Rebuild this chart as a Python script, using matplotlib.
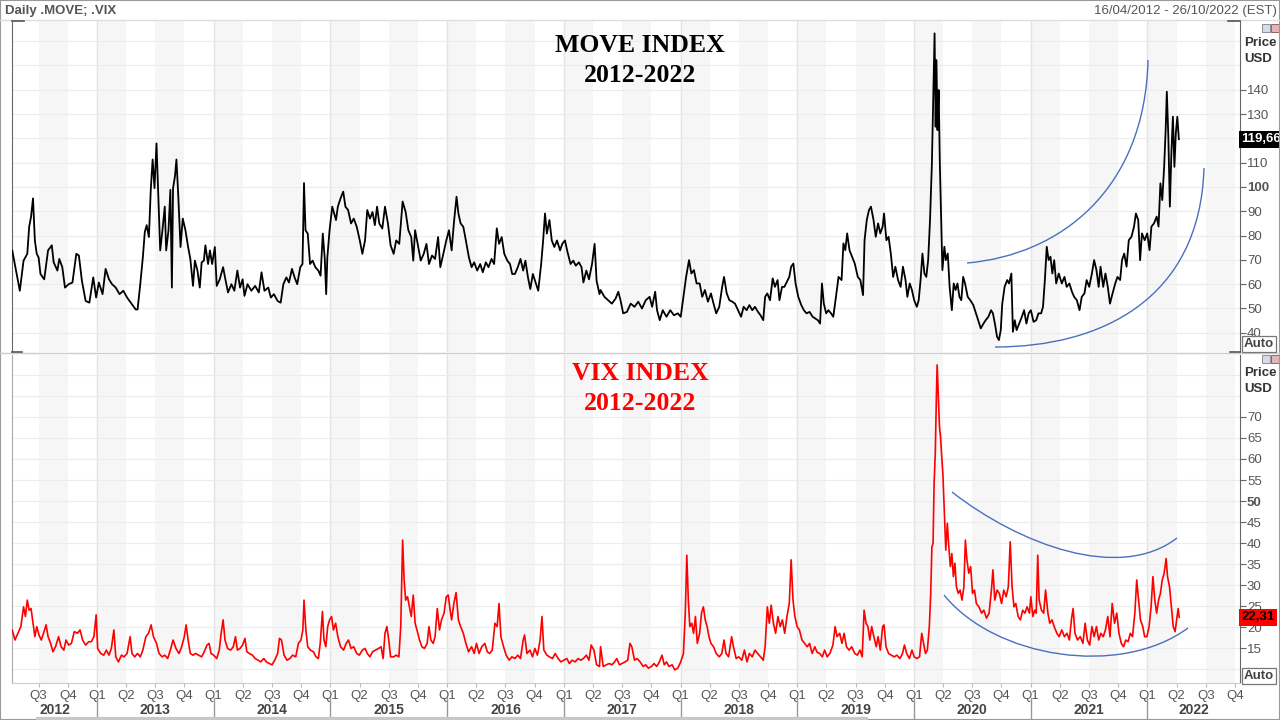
import numpy as np
import matplotlib
matplotlib.use("Agg")
import matplotlib.pyplot as plt
from matplotlib.path import Path
from matplotlib.patches import PathPatch, Rectangle
from matplotlib.lines import Line2D
from matplotlib.transforms import blended_transform_factory

plt.rcParams["font.family"] = ["Liberation Sans", "DejaVu Sans"]

# ---- data (decimal year, index level) ----
move_a = [
    (2012.274, 73.9), (2012.339, 57.3), (2012.371, 69.7), (2012.403, 72.5), (2012.419, 83.6),
    (2012.435, 87.7), (2012.452, 95.3), (2012.468, 78.0), (2012.484, 72.5), (2012.500, 71.0),
    (2012.516, 64.2), (2012.548, 62.0), (2012.581, 73.9), (2012.613, 76.0), (2012.629, 69.0),
    (2012.661, 65.6), (2012.677, 70.4), (2012.703, 67.0), (2012.726, 58.6), (2012.758, 60.0),
    (2012.790, 60.7), (2012.823, 72.5), (2012.845, 71.8), (2012.871, 61.4), (2012.903, 53.1),
    (2012.935, 52.4), (2012.968, 62.8), (2012.993, 54.5), (2013.016, 60.7), (2013.048, 55.9),
    (2013.074, 66.3), (2013.103, 62.0), (2013.129, 60.0), (2013.161, 58.6), (2013.193, 55.9),
    (2013.226, 57.3), (2013.258, 54.5), (2013.290, 52.4), (2013.332, 49.6), (2013.348, 49.6),
    (2013.371, 60.0), (2013.393, 71.0), (2013.410, 81.5), (2013.426, 84.3), (2013.445, 79.4),
    (2013.461, 98.8), (2013.477, 111.3), (2013.493, 99.5), (2013.510, 117.9), (2013.526, 96.0),
    (2013.542, 73.9), (2013.561, 82.2), (2013.581, 91.9), (2013.593, 73.9), (2013.613, 82.2),
    (2013.629, 98.8), (2013.642, 58.6), (2013.652, 99.5), (2013.668, 104.3), (2013.681, 111.3),
    (2013.697, 96.0), (2013.716, 75.3), (2013.735, 87.0), (2013.758, 82.2), (2013.781, 75.3),
    (2013.800, 70.4), (2013.823, 59.3), (2013.839, 69.7), (2013.861, 65.6), (2013.881, 58.6),
    (2013.897, 69.0), (2013.916, 69.7), (2013.929, 76.0), (2013.952, 68.3), (2013.968, 73.9),
    (2013.987, 68.3), (2014.010, 75.3), (2014.026, 59.3), (2014.052, 62.0), (2014.081, 67.0),
    (2014.097, 62.8), (2014.123, 56.6), (2014.152, 60.0), (2014.177, 57.3), (2014.203, 65.6),
    (2014.226, 58.6), (2014.248, 62.0), (2014.264, 55.2), (2014.290, 60.0), (2014.323, 57.3),
    (2014.355, 59.3), (2014.387, 56.6), (2014.410, 64.9), (2014.435, 57.3), (2014.468, 58.6),
    (2014.490, 54.5), (2014.516, 55.9), (2014.548, 53.1), (2014.574, 52.4), (2014.597, 60.0),
    (2014.623, 62.8), (2014.645, 60.7), (2014.671, 66.3), (2014.693, 62.8), (2014.716, 60.0),
    (2014.742, 67.0), (2014.761, 68.3), (2014.774, 101.6), (2014.787, 82.2), (2014.806, 80.8),
    (2014.826, 68.3), (2014.848, 69.7), (2014.871, 67.0), (2014.897, 65.6), (2014.916, 63.5),
    (2014.935, 80.8), (2014.952, 70.4), (2014.964, 55.9), (2014.974, 71.0), (2014.993, 82.2),
    (2015.016, 91.9), (2015.032, 89.1), (2015.048, 86.4), (2015.064, 91.9), (2015.087, 95.3),
    (2015.110, 98.1), (2015.129, 91.9), (2015.152, 90.5), (2015.177, 85.0), (2015.200, 87.0),
    (2015.226, 83.6), (2015.252, 78.0), (2015.274, 72.5), (2015.297, 78.0), (2015.316, 90.5),
    (2015.339, 87.0), (2015.361, 89.7), (2015.381, 84.3), (2015.400, 91.9), (2015.419, 85.0),
    (2015.445, 82.9), (2015.468, 91.9), (2015.493, 85.0), (2015.516, 76.0), (2015.542, 72.5),
    (2015.564, 78.0), (2015.590, 76.6), (2015.619, 94.0), (2015.645, 89.7), (2015.668, 82.2),
    (2015.693, 79.4), (2015.710, 69.7), (2015.726, 82.2), (2015.748, 76.6), (2015.774, 69.7),
    (2015.800, 72.5), (2015.823, 76.6), (2015.845, 68.3), (2015.871, 71.8), (2015.897, 70.4),
    (2015.923, 79.4), (2015.942, 67.0), (2015.968, 72.5), (2015.993, 78.0), (2016.016, 82.2),
    (2016.039, 73.9), (2016.058, 85.0), (2016.081, 96.0), (2016.097, 89.1), (2016.116, 85.0),
    (2016.139, 83.6), (2016.161, 78.0), (2016.187, 71.0), (2016.210, 67.0), (2016.232, 69.0),
    (2016.258, 65.6), (2016.284, 68.3), (2016.306, 64.9), (2016.332, 69.0), (2016.355, 67.0),
    (2016.381, 70.4), (2016.403, 68.3), (2016.426, 83.0), (2016.445, 76.6), (2016.468, 79.4),
    (2016.490, 72.5), (2016.516, 69.7), (2016.539, 68.3), (2016.558, 64.2), (2016.581, 64.2),
    (2016.606, 67.0), (2016.629, 70.4), (2016.652, 65.6), (2016.671, 69.7), (2016.693, 62.8),
    (2016.713, 58.0), (2016.735, 64.2), (2016.758, 60.7), (2016.781, 57.3), (2016.806, 68.3),
    (2016.823, 78.0), (2016.839, 89.1), (2016.855, 80.8), (2016.877, 86.4), (2016.897, 78.0),
    (2016.919, 75.3), (2016.942, 78.0), (2016.968, 73.9), (2016.987, 76.6), (2017.010, 78.0),
    (2017.032, 73.2), (2017.058, 68.3), (2017.081, 69.7), (2017.103, 67.6), (2017.129, 69.0),
    (2017.152, 67.0), (2017.168, 60.7), (2017.193, 65.6), (2017.216, 62.0), (2017.242, 68.3),
    (2017.264, 76.6), (2017.281, 61.4), (2017.306, 55.9),
]

move_b = [
    (2017.315, 57.6), (2017.348, 54.8), (2017.380, 53.4), (2017.412, 52.0), (2017.444, 54.1),
    (2017.467, 56.9), (2017.486, 53.4), (2017.509, 48.0), (2017.541, 48.6), (2017.573, 52.0),
    (2017.606, 50.7), (2017.638, 52.8), (2017.670, 50.0), (2017.702, 53.4), (2017.735, 54.8),
    (2017.757, 50.7), (2017.783, 56.9), (2017.799, 49.3), (2017.822, 45.2), (2017.848, 49.3),
    (2017.880, 46.6), (2017.912, 49.3), (2017.944, 47.2), (2017.977, 48.0), (2018.002, 46.6),
    (2018.025, 54.8), (2018.048, 63.0), (2018.073, 69.9), (2018.093, 64.4), (2018.115, 65.8),
    (2018.138, 60.3), (2018.164, 60.3), (2018.186, 54.8), (2018.209, 57.6), (2018.235, 52.8),
    (2018.261, 56.2), (2018.283, 52.0), (2018.306, 48.0), (2018.332, 50.7), (2018.357, 58.9),
    (2018.373, 63.0), (2018.396, 56.2), (2018.419, 53.4), (2018.444, 52.8), (2018.467, 52.0),
    (2018.493, 49.3), (2018.519, 46.6), (2018.541, 50.7), (2018.567, 49.3), (2018.590, 51.4),
    (2018.615, 49.3), (2018.638, 50.7), (2018.664, 48.6), (2018.686, 47.2), (2018.709, 45.2),
    (2018.725, 54.8), (2018.744, 56.2), (2018.767, 53.4), (2018.790, 62.4), (2018.809, 58.9),
    (2018.832, 61.7), (2018.848, 53.4), (2018.870, 58.9), (2018.890, 58.9), (2018.912, 61.0),
    (2018.932, 63.0), (2018.948, 67.2), (2018.967, 68.5), (2018.986, 60.3), (2019.009, 54.8),
    (2019.035, 51.4), (2019.057, 49.3), (2019.080, 48.0), (2019.106, 48.6), (2019.132, 46.6),
    (2019.154, 45.9), (2019.177, 45.2), (2019.196, 43.8), (2019.212, 60.3), (2019.228, 52.0),
    (2019.248, 48.0), (2019.267, 49.3), (2019.290, 48.0), (2019.309, 46.6), (2019.332, 54.8),
    (2019.354, 63.0), (2019.380, 61.7), (2019.396, 76.8), (2019.412, 74.0), (2019.428, 80.9),
    (2019.448, 74.0), (2019.470, 71.3), (2019.493, 68.5), (2019.519, 63.0), (2019.541, 61.7),
    (2019.564, 55.5), (2019.577, 78.1), (2019.596, 86.4), (2019.615, 90.5), (2019.632, 91.9),
    (2019.654, 86.4), (2019.673, 79.5), (2019.693, 85.0), (2019.712, 80.9), (2019.732, 83.7),
    (2019.744, 89.1), (2019.764, 78.1), (2019.783, 79.5), (2019.802, 72.6), (2019.822, 63.0),
    (2019.841, 67.2), (2019.864, 61.7), (2019.886, 58.9), (2019.906, 67.2), (2019.928, 61.7),
    (2019.944, 54.8), (2019.964, 60.3), (2019.983, 57.6), (2020.002, 53.4), (2020.025, 50.7),
    (2020.041, 53.4), (2020.057, 61.7), (2020.073, 72.6), (2020.090, 64.4), (2020.106, 63.0),
    (2020.122, 69.9), (2020.138, 86.4), (2020.154, 109.7), (2020.167, 141.2), (2020.177, 163.2),
    (2020.186, 124.8), (2020.193, 152.2), (2020.202, 123.4), (2020.212, 139.9), (2020.222, 109.7),
    (2020.232, 90.5), (2020.244, 65.8), (2020.261, 75.4), (2020.273, 69.9), (2020.290, 72.6),
    (2020.306, 58.9), (2020.325, 49.3), (2020.341, 60.3), (2020.357, 57.6), (2020.373, 60.3),
    (2020.390, 54.8), (2020.406, 53.4), (2020.422, 63.0), (2020.438, 60.3), (2020.461, 54.8),
    (2020.483, 53.4), (2020.509, 51.4), (2020.532, 48.0), (2020.551, 45.2), (2020.573, 41.8),
    (2020.596, 43.8), (2020.615, 45.2), (2020.638, 46.6), (2020.661, 49.3), (2020.677, 48.0),
    (2020.696, 43.2), (2020.712, 38.4), (2020.728, 37.0), (2020.744, 41.1), (2020.757, 52.0),
    (2020.777, 58.9), (2020.799, 61.7), (2020.815, 60.3), (2020.835, 64.4), (2020.848, 40.4),
    (2020.864, 45.2), (2020.880, 41.1), (2020.902, 43.8), (2020.925, 46.6), (2020.944, 49.3),
    (2020.964, 43.8), (2020.983, 48.0), (2021.002, 49.3), (2021.025, 44.5), (2021.048, 45.2),
    (2021.067, 48.0), (2021.090, 48.0), (2021.106, 50.7), (2021.122, 61.7), (2021.138, 75.4),
    (2021.154, 69.9), (2021.170, 71.3), (2021.186, 64.4), (2021.202, 69.9), (2021.219, 60.3),
    (2021.241, 64.4), (2021.267, 60.3), (2021.290, 63.0), (2021.309, 58.9), (2021.332, 60.3),
    (2021.354, 56.9), (2021.373, 54.8), (2021.396, 53.4), (2021.419, 49.3), (2021.438, 54.8),
    (2021.461, 56.2), (2021.480, 61.7), (2021.502, 58.9), (2021.525, 64.4), (2021.544, 69.9),
    (2021.564, 65.8), (2021.583, 58.9), (2021.599, 67.2), (2021.622, 58.9), (2021.641, 64.4),
    (2021.661, 58.9), (2021.680, 52.0), (2021.702, 56.2), (2021.725, 60.3), (2021.744, 63.0),
    (2021.767, 61.7), (2021.783, 69.9), (2021.802, 72.6), (2021.822, 67.2), (2021.841, 78.1),
    (2021.864, 79.5), (2021.886, 83.7), (2021.902, 89.1), (2021.922, 86.4), (2021.938, 69.9),
    (2021.954, 80.9), (2021.977, 78.1), (2021.999, 80.9), (2022.019, 74.0), (2022.035, 83.7),
    (2022.057, 85.0), (2022.080, 87.8), (2022.096, 83.7), (2022.112, 101.5), (2022.128, 94.6),
    (2022.144, 108.3), (2022.157, 123.4), (2022.167, 139.2), (2022.180, 120.7), (2022.193, 91.9),
    (2022.206, 113.8), (2022.219, 128.9), (2022.232, 108.3), (2022.244, 122.0), (2022.257, 128.9),
    (2022.270, 119.66),
]

vix_a = [
    (2012.274, 19.3), (2012.297, 16.9), (2012.323, 18.5), (2012.348, 20.1), (2012.371, 24.8),
    (2012.387, 22.5), (2012.403, 26.4), (2012.419, 24.0), (2012.435, 24.4), (2012.452, 20.9),
    (2012.468, 17.7), (2012.484, 20.1), (2012.503, 18.1), (2012.523, 16.9), (2012.542, 18.5),
    (2012.564, 20.5), (2012.581, 17.7), (2012.603, 16.1), (2012.623, 14.1), (2012.645, 15.3),
    (2012.671, 17.7), (2012.693, 15.3), (2012.716, 14.5), (2012.735, 16.9), (2012.758, 15.7),
    (2012.781, 16.1), (2012.806, 18.9), (2012.832, 18.5), (2012.855, 19.3), (2012.877, 16.9),
    (2012.903, 15.7), (2012.929, 16.5), (2012.952, 16.5), (2012.974, 17.7), (2012.993, 22.9),
    (2013.006, 14.9), (2013.032, 13.7), (2013.058, 13.3), (2013.081, 14.5), (2013.103, 13.3),
    (2013.123, 14.9), (2013.145, 19.3), (2013.161, 12.9), (2013.184, 11.7), (2013.210, 13.3),
    (2013.232, 12.9), (2013.258, 13.7), (2013.284, 17.7), (2013.300, 13.7), (2013.323, 12.9),
    (2013.348, 13.7), (2013.371, 12.9), (2013.393, 14.5), (2013.419, 17.7), (2013.442, 18.5),
    (2013.464, 20.5), (2013.484, 17.7), (2013.510, 16.1), (2013.532, 13.7), (2013.558, 12.9),
    (2013.581, 13.3), (2013.606, 12.5), (2013.629, 14.5), (2013.652, 16.9), (2013.677, 14.9),
    (2013.703, 13.7), (2013.726, 15.3), (2013.748, 17.7), (2013.764, 20.5), (2013.781, 16.9),
    (2013.800, 13.7), (2013.823, 13.3), (2013.845, 13.7), (2013.871, 13.3), (2013.897, 12.9),
    (2013.919, 14.1), (2013.942, 15.7), (2013.961, 16.1), (2013.977, 13.7), (2014.000, 13.3),
    (2014.026, 12.5), (2014.048, 14.5), (2014.064, 18.5), (2014.081, 21.7), (2014.097, 16.9),
    (2014.119, 14.9), (2014.145, 14.5), (2014.168, 15.3), (2014.187, 17.7), (2014.203, 14.5),
    (2014.226, 14.9), (2014.248, 15.7), (2014.268, 17.3), (2014.284, 14.1), (2014.306, 13.7),
    (2014.332, 13.3), (2014.355, 12.5), (2014.381, 12.1), (2014.403, 11.7), (2014.429, 12.5),
    (2014.452, 11.7), (2014.477, 11.3), (2014.500, 11.0), (2014.523, 12.1), (2014.548, 13.7),
    (2014.564, 17.3), (2014.581, 16.9), (2014.603, 13.3), (2014.629, 12.1), (2014.652, 12.5),
    (2014.677, 13.3), (2014.703, 12.9), (2014.726, 16.1), (2014.748, 16.9), (2014.764, 19.3),
    (2014.774, 26.4), (2014.790, 19.3), (2014.806, 15.3), (2014.829, 14.5), (2014.855, 14.1),
    (2014.877, 12.9), (2014.897, 12.5), (2014.913, 16.1), (2014.932, 23.7), (2014.945, 16.9),
    (2014.961, 15.3), (2014.977, 20.1), (2014.993, 21.7), (2015.010, 22.5), (2015.026, 19.3),
    (2015.045, 20.9), (2015.064, 17.7), (2015.087, 15.3), (2015.113, 14.5), (2015.135, 16.1),
    (2015.155, 16.9), (2015.177, 14.9), (2015.200, 15.3), (2015.226, 13.7), (2015.248, 13.3),
    (2015.274, 14.5), (2015.297, 14.9), (2015.316, 13.7), (2015.339, 12.9), (2015.361, 14.1),
    (2015.387, 14.5), (2015.413, 14.9), (2015.435, 15.3), (2015.452, 12.5), (2015.468, 18.5),
    (2015.484, 20.1), (2015.500, 16.9), (2015.516, 12.9), (2015.542, 12.9), (2015.564, 13.3),
    (2015.587, 12.9), (2015.603, 20.1), (2015.619, 40.7), (2015.632, 31.2), (2015.645, 26.4),
    (2015.661, 27.2), (2015.677, 24.8), (2015.693, 22.5), (2015.710, 27.6), (2015.726, 20.9),
    (2015.742, 19.3), (2015.764, 16.9), (2015.784, 15.3), (2015.806, 14.9), (2015.829, 16.1),
    (2015.845, 20.1), (2015.861, 16.9), (2015.881, 16.1), (2015.897, 17.7), (2015.916, 24.4),
    (2015.935, 19.3), (2015.952, 21.7), (2015.974, 23.3), (2015.993, 27.2), (2016.010, 27.6),
    (2016.026, 24.0), (2016.039, 21.7), (2016.058, 25.6), (2016.077, 28.2), (2016.097, 21.7),
    (2016.116, 20.1), (2016.139, 18.5), (2016.161, 16.1), (2016.184, 14.1), (2016.210, 15.3),
    (2016.232, 13.7), (2016.252, 16.1), (2016.274, 13.7), (2016.297, 15.3), (2016.323, 16.1),
    (2016.345, 14.1), (2016.364, 13.7), (2016.387, 14.5), (2016.410, 20.9), (2016.429, 20.1),
    (2016.445, 25.6), (2016.461, 17.7), (2016.484, 15.3), (2016.506, 13.3), (2016.532, 12.1),
    (2016.555, 12.9), (2016.581, 12.5), (2016.606, 13.3), (2016.629, 12.5), (2016.652, 16.9),
    (2016.664, 18.1), (2016.684, 13.7), (2016.710, 14.5), (2016.732, 12.9), (2016.752, 14.9),
    (2016.774, 13.3), (2016.797, 16.9), (2016.813, 22.5), (2016.829, 14.5), (2016.855, 13.3),
    (2016.877, 12.9), (2016.903, 12.5), (2016.926, 13.7), (2016.952, 12.5), (2016.974, 11.7),
    (2017.000, 12.1), (2017.026, 12.5), (2017.048, 11.3), (2017.071, 12.1), (2017.097, 11.7),
    (2017.123, 12.5), (2017.145, 12.1), (2017.168, 12.5), (2017.193, 13.3), (2017.216, 12.1),
    (2017.235, 15.7), (2017.258, 14.5), (2017.281, 11.0), (2017.306, 10.6),
]

vix_b = [
    (2017.315, 15.3), (2017.338, 10.6), (2017.364, 11.0), (2017.390, 11.3), (2017.412, 11.0),
    (2017.435, 11.7), (2017.454, 12.5), (2017.477, 11.0), (2017.499, 11.3), (2017.525, 11.7),
    (2017.548, 12.1), (2017.567, 16.1), (2017.583, 15.3), (2017.606, 12.1), (2017.628, 12.5),
    (2017.654, 11.7), (2017.680, 10.6), (2017.702, 11.0), (2017.725, 10.2), (2017.751, 10.6),
    (2017.773, 11.3), (2017.796, 10.6), (2017.819, 11.7), (2017.841, 13.3), (2017.861, 11.0),
    (2017.880, 11.7), (2017.902, 10.6), (2017.928, 11.0), (2017.951, 9.8), (2017.977, 10.2),
    (2018.002, 11.7), (2018.025, 13.7), (2018.041, 23.3), (2018.054, 37.1), (2018.067, 26.4),
    (2018.080, 20.1), (2018.096, 20.9), (2018.112, 18.5), (2018.128, 22.5), (2018.144, 16.1),
    (2018.164, 18.5), (2018.180, 23.3), (2018.196, 24.8), (2018.212, 21.7), (2018.228, 20.1),
    (2018.244, 17.7), (2018.261, 16.1), (2018.283, 15.3), (2018.306, 13.7), (2018.332, 12.9),
    (2018.354, 13.7), (2018.373, 16.9), (2018.390, 13.7), (2018.412, 12.9), (2018.438, 17.7),
    (2018.454, 15.3), (2018.477, 12.5), (2018.499, 12.9), (2018.525, 12.1), (2018.548, 14.5),
    (2018.570, 11.7), (2018.590, 13.7), (2018.615, 12.9), (2018.638, 14.5), (2018.661, 13.7),
    (2018.686, 12.9), (2018.709, 12.1), (2018.725, 15.3), (2018.744, 24.8), (2018.761, 20.9),
    (2018.777, 25.2), (2018.796, 20.9), (2018.815, 18.5), (2018.835, 22.5), (2018.854, 20.1),
    (2018.873, 21.7), (2018.893, 18.5), (2018.912, 22.5), (2018.932, 25.6), (2018.948, 36.0),
    (2018.964, 26.4), (2018.980, 22.5), (2018.999, 20.1), (2019.019, 19.3), (2019.041, 16.9),
    (2019.064, 16.1), (2019.086, 15.3), (2019.106, 16.1), (2019.128, 13.7), (2019.151, 15.3),
    (2019.170, 14.0), (2019.193, 13.7), (2019.215, 12.9), (2019.235, 14.5), (2019.257, 12.9),
    (2019.280, 13.7), (2019.306, 15.7), (2019.325, 20.1), (2019.341, 17.7), (2019.364, 18.5),
    (2019.383, 16.1), (2019.402, 18.5), (2019.422, 15.3), (2019.444, 14.5), (2019.467, 15.3),
    (2019.493, 13.7), (2019.515, 13.3), (2019.538, 14.5), (2019.557, 12.9), (2019.573, 24.0),
    (2019.590, 20.9), (2019.606, 20.1), (2019.622, 16.9), (2019.638, 20.1), (2019.657, 17.7),
    (2019.677, 15.3), (2019.693, 17.7), (2019.712, 14.5), (2019.732, 20.1), (2019.744, 20.5),
    (2019.761, 15.3), (2019.783, 13.7), (2019.806, 13.3), (2019.832, 12.9), (2019.854, 13.3),
    (2019.880, 12.5), (2019.902, 13.7), (2019.919, 15.7), (2019.938, 13.7), (2019.961, 12.5),
    (2019.983, 14.5), (2020.002, 12.9), (2020.025, 12.5), (2020.048, 12.9), (2020.067, 18.5),
    (2020.083, 16.1), (2020.099, 13.7), (2020.115, 14.5), (2020.132, 20.1), (2020.144, 28.0),
    (2020.154, 39.1), (2020.164, 39.9), (2020.173, 54.2), (2020.183, 61.3), (2020.193, 75.6),
    (2020.199, 82.4), (2020.209, 74.8), (2020.219, 67.7), (2020.228, 65.3), (2020.238, 60.6),
    (2020.248, 56.6), (2020.261, 47.1), (2020.273, 38.3), (2020.286, 44.7), (2020.299, 39.1),
    (2020.312, 34.4), (2020.325, 37.5), (2020.338, 32.0), (2020.351, 35.2), (2020.364, 29.6),
    (2020.380, 28.0), (2020.396, 28.8), (2020.412, 26.4), (2020.428, 29.6), (2020.441, 40.7),
    (2020.454, 36.0), (2020.470, 32.8), (2020.486, 34.4), (2020.502, 28.0), (2020.519, 28.8),
    (2020.535, 25.6), (2020.557, 24.8), (2020.580, 23.3), (2020.599, 24.0), (2020.622, 22.1),
    (2020.644, 23.3), (2020.664, 28.8), (2020.677, 33.6), (2020.693, 26.4), (2020.712, 28.8),
    (2020.732, 28.0), (2020.751, 25.6), (2020.770, 28.8), (2020.790, 27.2), (2020.809, 29.6),
    (2020.825, 40.3), (2020.841, 29.6), (2020.857, 24.8), (2020.873, 25.6), (2020.893, 22.5),
    (2020.912, 21.7), (2020.932, 24.0), (2020.951, 23.3), (2020.970, 24.8), (2020.990, 23.3),
    (2021.002, 27.2), (2021.019, 22.5), (2021.035, 24.0), (2021.048, 23.3), (2021.061, 37.1),
    (2021.073, 26.4), (2021.093, 24.0), (2021.112, 23.3), (2021.128, 28.8), (2021.148, 23.3),
    (2021.164, 20.9), (2021.183, 21.7), (2021.202, 20.1), (2021.225, 18.5), (2021.244, 17.7),
    (2021.267, 19.3), (2021.290, 17.7), (2021.312, 18.5), (2021.332, 16.9), (2021.351, 22.1),
    (2021.364, 24.4), (2021.380, 18.5), (2021.402, 16.9), (2021.425, 17.7), (2021.448, 16.1),
    (2021.467, 20.9), (2021.486, 16.9), (2021.506, 15.7), (2021.525, 20.1), (2021.544, 17.7),
    (2021.564, 20.1), (2021.583, 16.9), (2021.602, 18.5), (2021.622, 17.7), (2021.641, 19.3),
    (2021.661, 22.5), (2021.680, 17.7), (2021.699, 25.6), (2021.719, 20.9), (2021.738, 23.3),
    (2021.757, 18.5), (2021.777, 16.1), (2021.796, 15.3), (2021.815, 16.9), (2021.835, 16.5),
    (2021.854, 18.5), (2021.873, 17.7), (2021.893, 23.3), (2021.909, 31.2), (2021.925, 26.4),
    (2021.941, 21.7), (2021.961, 20.1), (2021.977, 17.7), (2021.996, 17.7), (2022.015, 20.1),
    (2022.032, 24.8), (2022.048, 32.0), (2022.064, 26.4), (2022.080, 23.3), (2022.096, 26.4),
    (2022.112, 28.0), (2022.128, 31.2), (2022.144, 32.8), (2022.161, 36.3), (2022.173, 32.0),
    (2022.190, 29.6), (2022.206, 24.8), (2022.222, 20.1), (2022.238, 18.9), (2022.251, 21.7),
    (2022.264, 24.4), (2022.273, 22.31),
]

years = list(range(2012, 2023))
quarter_names = ["Q1", "Q2", "Q3", "Q4"]
move_ticks = [40, 50, 60, 70, 80, 90, 100, 110, 130, 140]   # 120 sits under the last-value box
vix_ticks = [15, 20, 25, 30, 35, 40, 45, 50, 55, 60, 65, 70]
move_last = 119.66
vix_last = 22.31

move = np.array(move_a + move_b)
vix = np.array(vix_a + vix_b)

# ---- layout (pixel helpers) ----
W, H = 1280, 720
def fx(x):
    return x / W
def fy(y):
    return 1 - y / H

XMIN, XMAX = 2012.272, 2022.794
fig = plt.figure(figsize=(12.8, 7.2), dpi=100)
fig.patch.set_facecolor("white")

ax1 = fig.add_axes([fx(12), fy(352), (1240 - 12) / W, (352 - 20) / H])
ax2 = fig.add_axes([fx(12), fy(683), (1240 - 12) / W, (683 - 355) / H])

def base(ax, grid_vals):
    ax.set_xlim(XMIN, XMAX)
    for yr in years:
        for q in (0, 2):
            ax.axvspan(yr + q * 0.25, yr + q * 0.25 + 0.25, color="#f6f6f6", lw=0, zorder=0)
        ax.axvline(yr, color="#e3e3e3", lw=1, zorder=0.5)
    for v in grid_vals:
        ax.axhline(v, color="#ececec", lw=0.8, zorder=0.6)
    ax.yaxis.tick_right()
    ax.tick_params(axis="y", direction="out", length=4, width=0.8, color="#666",
                   labelsize=9.5, labelcolor="#555", pad=1)
    ax.spines["top"].set_visible(False)
    ax.spines["right"].set_color("#666")

base(ax1, np.arange(40, 170, 10))
base(ax2, np.arange(10, 85, 5))

ax1.set_ylim(32.1, 168.7)
ax2.set_ylim(6.67, 84.76)

ax1.plot(move[:, 0], move[:, 1], color="black", lw=1.3, zorder=3)
ax2.plot(vix[:, 0], vix[:, 1], color="#ff0000", lw=1.2, zorder=3)

ax1.set_yticks(move_ticks, [str(v) for v in move_ticks])
ax2.set_yticks(vix_ticks, [str(v) for v in vix_ticks])
for lab in ax1.get_yticklabels():
    if lab.get_text() == "100":
        lab.set_fontweight("bold")
for lab in ax2.get_yticklabels():
    if lab.get_text() == "50":
        lab.set_fontweight("bold")

ax1.set_xticks([])
ax1.spines["bottom"].set_visible(False)
ax1.spines["left"].set_color("#666")
ax2.spines["left"].set_color("#aaa")
ax2.spines["bottom"].set_color("#cccccc")

# quarter ticks and year labels
qpos, qlab = [], []
for yr in years:
    for k in range(4):
        p = yr + k * 0.25
        if XMIN <= p <= XMAX:
            qpos.append(p)
            qlab.append(quarter_names[k])
ax2.set_xticks(qpos, qlab)
ax2.tick_params(axis="x", length=3, color="#bbb", labelsize=9.5, labelcolor="#555", pad=2)

tr = blended_transform_factory(ax2.transData, ax2.transAxes)
for yr in years:
    lo, hi = max(yr, XMIN), min(yr + 1, XMAX)
    ax2.text((lo + hi) / 2, -0.083, str(yr), transform=tr, ha="center", va="center",
             fontsize=10, fontweight="bold", color="#444", clip_on=False)
    if yr > 2012:
        ax2.plot([yr, yr], [-0.046, -0.107], transform=tr, color="#999", lw=1, clip_on=False)

# last value boxes
tr1 = blended_transform_factory(ax1.transAxes, ax1.transData)
ax1.text(1.001, move_last, f"{move_last:.2f}".replace(".", ","), transform=tr1, ha="left",
         va="center", fontsize=9.5, fontweight="bold", color="white", zorder=10, clip_on=False,
         bbox=dict(boxstyle="square,pad=0.2", fc="black", ec="none"))
tr2 = blended_transform_factory(ax2.transAxes, ax2.transData)
ax2.text(1.001, vix_last, f"{vix_last:.2f}".replace(".", ","), transform=tr2, ha="left",
         va="center", fontsize=9.5, fontweight="bold", color="black", zorder=10, clip_on=False,
         bbox=dict(boxstyle="square,pad=0.2", fc="#ff0000", ec="none"))

# titles
for txt, y, col in [("MOVE INDEX", 45, "black"), ("2012-2022", 75, "black"),
                    ("VIX INDEX", 373, "#ff0000"), ("2012-2022", 403, "#ff0000")]:
    fig.text(0.5, fy(y), txt, ha="center", va="center", fontsize=18.5, fontweight="bold",
             color=col, family=["Liberation Serif", "DejaVu Serif"])

# header, frame and chrome
fig.text(fx(5), fy(11), "Daily .MOVE; .VIX", ha="left", va="center", fontsize=9.5,
         fontweight="bold", color="#555")
fig.text(fx(1277), fy(11), "16/04/2012 - 26/10/2022 (EST)", ha="right", va="center",
         fontsize=9.5, color="#555")
for y0 in (43, 373):
    fig.text(fx(1244), fy(y0), "Price", ha="left", va="center", fontsize=9.5,
             fontweight="bold", color="#333")
    fig.text(fx(1244), fy(y0 + 16), "USD", ha="left", va="center", fontsize=9.5,
             fontweight="bold", color="#333")
for y0 in (344, 676):
    fig.text(fx(1259), fy(y0), "Auto", ha="center", va="center", fontsize=9.5,
             fontweight="bold", color="#444",
             bbox=dict(boxstyle="square,pad=0.12", fc="white", ec="#777", lw=0.9))
for y0 in (24, 355):
    fig.add_artist(Rectangle((fx(1262), fy(y0 + 8)), 8 / W, 8 / H, transform=fig.transFigure,
                             fc="#d8dbe4", ec="#8a8fa0", lw=0.7))
    fig.add_artist(Rectangle((fx(1271), fy(y0 + 8)), 8 / W, 8 / H, transform=fig.transFigure,
                             fc="#e3b4b4", ec="#a06060", lw=0.7))

def hline(x0, x1, y, color, lw=1.0):
    fig.add_artist(Line2D([fx(x0), fx(x1)], [fy(y), fy(y)], color=color, lw=lw,
                          transform=fig.transFigure))

hline(0, 1280, 20, "#dddddd")
hline(0, 1280, 353, "#cccccc")
hline(12, 24, 21, "#555", 1.2)
hline(12, 22, 352, "#555", 1.2)
hline(1228, 1240, 21, "#555", 1.2)
hline(1230, 1240, 352, "#555", 1.2)
hline(38, 866, 718.5, "#c8c8c8", 3)
fig.add_artist(Rectangle((0, 0), 1, 1, transform=fig.transFigure, fill=False,
                         ec="#999", lw=1.5))

# hand-drawn style arcs
def arc(p0, p1, p2, p3):
    verts = [(fx(x), fy(y)) for x, y in (p0, p1, p2, p3)]
    path = Path(verts, [Path.MOVETO, Path.CURVE4, Path.CURVE4, Path.CURVE4])
    fig.add_artist(PathPatch(path, fill=False, ec="#4a70bd", lw=1.0,
                             transform=fig.transFigure))

arc((967, 263), (1060, 255), (1145, 190), (1148, 60))
arc((995, 347), (1100, 347), (1200, 300), (1204, 168))
arc((952, 492), (1020, 545), (1120, 582), (1177, 538))
arc((944, 595), (995, 658), (1120, 678), (1188, 628))

fig.savefig("out.png", dpi=100)
